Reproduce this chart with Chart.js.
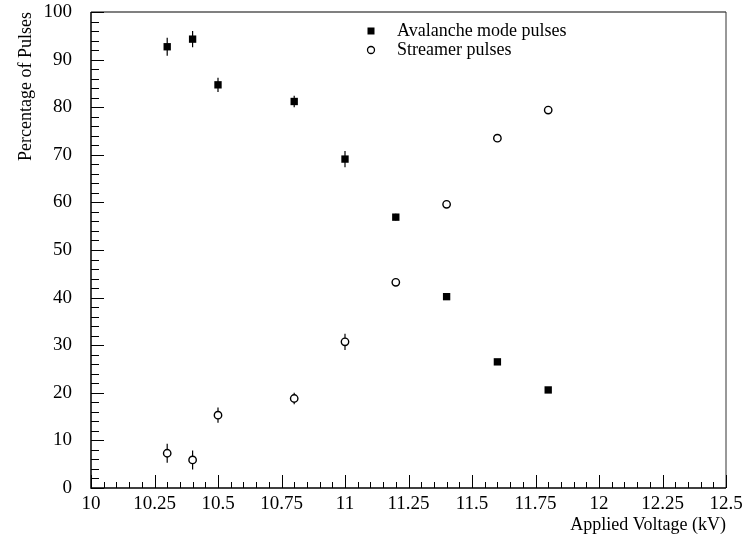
<!DOCTYPE html>
<html>
<head>
<meta charset="utf-8">
<script src="https://cdn.jsdelivr.net/npm/chart.js@4/dist/chart.umd.min.js"></script>
<style>
  body { margin: 0; background: #fff; }
  #wrap { width: 744px; height: 544px; }
</style>
</head>
<body>
<div id="wrap"><canvas id="pulses"></canvas></div>
<script>
const voltages = [10.3, 10.4, 10.5, 10.8, 11.0, 11.2, 11.4, 11.6, 11.8];
const avalanche = [92.7, 94.3, 84.7, 81.2, 69.1, 56.9, 40.2, 26.5, 20.6];
const avalancheErr = [1.9, 1.7, 1.5, 1.2, 1.7, 0.7, 0.6, 0.5, 0.5];
const streamer = [7.3, 5.9, 15.3, 18.8, 30.7, 43.2, 59.6, 73.5, 79.4];
const streamerErr = [2.0, 2.0, 1.6, 1.2, 1.7, 0.7, 0.6, 0.5, 0.5];
const xTicks = [10, 10.25, 10.5, 10.75, 11, 11.25, 11.5, 11.75, 12, 12.25, 12.5];
const yTicks = [0, 10, 20, 30, 40, 50, 60, 70, 80, 90, 100];

const font = "Liberation Serif";

function points(ys) {
    return voltages.map(function (v, i) { return { x: v, y: ys[i] }; });
}

// no label overflow padding, so the plot box comes from layout.padding only
function noPadding(s) {
    s.paddingTop = 0;
    s.paddingBottom = 0;
    s.paddingLeft = 0;
    s.paddingRight = 0;
}

// error bars + inward ticks + frame + legend
const decorations = {
    id: "decorations",
    beforeDatasetsDraw(chart) {
        const ctx = chart.ctx;
        const x = chart.scales.x, y = chart.scales.y;
        ctx.save();
        ctx.strokeStyle = "#000";
        ctx.lineWidth = 1.2;
        [[avalanche, avalancheErr], [streamer, streamerErr]].forEach(function (s) {
            voltages.forEach(function (v, i) {
                const px = x.getPixelForValue(v);
                ctx.beginPath();
                ctx.moveTo(px, y.getPixelForValue(s[0][i] - s[1][i]));
                ctx.lineTo(px, y.getPixelForValue(s[0][i] + s[1][i]));
                ctx.stroke();
            });
        });
        ctx.restore();
    },
    afterDraw(chart) {
        const ctx = chart.ctx;
        const a = chart.chartArea;
        const x = chart.scales.x, y = chart.scales.y;
        ctx.save();
        // top and right frame
        ctx.strokeStyle = "#808080";
        ctx.lineWidth = 2;
        ctx.beginPath();
        ctx.moveTo(a.left, a.top);
        ctx.lineTo(a.right, a.top);
        ctx.stroke();
        ctx.strokeStyle = "#333";
        ctx.lineWidth = 1;
        ctx.beginPath();
        ctx.moveTo(a.right, a.top);
        ctx.lineTo(a.right, a.bottom);
        ctx.stroke();
        // axes
        ctx.strokeStyle = "#000";
        ctx.lineWidth = 1.5;
        ctx.beginPath();
        ctx.moveTo(a.left, a.top);
        ctx.lineTo(a.left, a.bottom);
        ctx.lineTo(a.right, a.bottom);
        ctx.stroke();
        ctx.lineWidth = 1;
        // x ticks
        for (let k = 0; k <= 50; k++) {
            const v = 10 + k * 0.05;
            const px = Math.round(x.getPixelForValue(v)) + 0.5;
            const len = k % 5 === 0 ? 13 : 6;
            ctx.beginPath();
            ctx.moveTo(px, a.bottom);
            ctx.lineTo(px, a.bottom - len);
            ctx.stroke();
        }
        // y ticks
        for (let k = 0; k <= 50; k++) {
            const v = k * 2;
            const py = Math.round(y.getPixelForValue(v)) + 0.5;
            const len = k % 5 === 0 ? 13 : 8;
            ctx.beginPath();
            ctx.moveTo(a.left, py);
            ctx.lineTo(a.left + len, py);
            ctx.stroke();
        }
        // legend
        ctx.font = "18px '" + font + "'";
        ctx.textBaseline = "middle";
        ctx.fillStyle = "#000";
        ctx.strokeStyle = "#000";
        const lx = 371, rows = [31, 50];
        chart.data.datasets.forEach(function (ds, i) {
            const ly = rows[i];
            if (ds.pointStyle === "rect") {
                ctx.fillRect(lx - 3.5, ly - 3.5, 7, 7);
            } else {
                ctx.lineWidth = 1.3;
                ctx.beginPath();
                ctx.arc(lx, ly, 3.5, 0, Math.PI * 2);
                ctx.stroke();
            }
            ctx.fillText(ds.label, 397, ly);
        });
        ctx.restore();
    }
};

new Chart(document.getElementById("pulses"), {
    type: "scatter",
    data: {
        datasets: [
            {
                label: "Avalanche mode pulses",
                data: points(avalanche),
                pointStyle: "rect",
                pointRadius: 5.2,
                backgroundColor: "#000",
                borderColor: "#000",
                borderWidth: 0,
            },
            {
                label: "Streamer pulses",
                data: points(streamer),
                pointStyle: "circle",
                pointRadius: 3.7,
                backgroundColor: "#fff",
                borderColor: "#000",
                borderWidth: 1.4,
            },
        ],
    },
    options: {
        responsive: true,
        maintainAspectRatio: false,
        animation: false,
        layout: { padding: { top: 12, right: 18, left: 0, bottom: 0 } },
        plugins: {
            legend: { display: false },
            tooltip: { enabled: false },
        },
        scales: {
            x: {
                type: "linear",
                min: 10,
                max: 12.5,
                afterBuildTicks: function (s) { s.ticks = xTicks.map(function (v) { return { value: v }; }); },
                afterFit: function (s) { s.height = 56; noPadding(s); },
                grid: { display: false, drawTicks: false },
                border: { display: false },
                ticks: {
                    padding: 5,
                    color: "#000",
                    maxRotation: 0,
                    autoSkip: false,
                    font: { family: font, size: 19 },
                    callback: function (v) { return String(v); },
                },
                title: {
                    display: true,
                    text: "Applied Voltage (kV)",
                    align: "end",
                    color: "#000",
                    font: { family: font, size: 18 },
                    padding: { top: 0, bottom: 8 },
                },
            },
            y: {
                type: "linear",
                min: 0,
                max: 100,
                afterBuildTicks: function (s) { s.ticks = yTicks.map(function (v) { return { value: v }; }); },
                afterFit: function (s) { s.width = 91; noPadding(s); },
                grid: { display: false, drawTicks: false },
                border: { display: false },
                ticks: {
                    padding: 19,
                    color: "#000",
                    autoSkip: false,
                    font: { family: font, size: 19 },
                },
                title: {
                    display: true,
                    text: "Percentage of Pulses",
                    align: "end",
                    color: "#000",
                    font: { family: font, size: 18 },
                    padding: { top: 15, bottom: 0 },
                },
            },
        },
    },
    plugins: [decorations],
});
</script>
</body>
</html>
